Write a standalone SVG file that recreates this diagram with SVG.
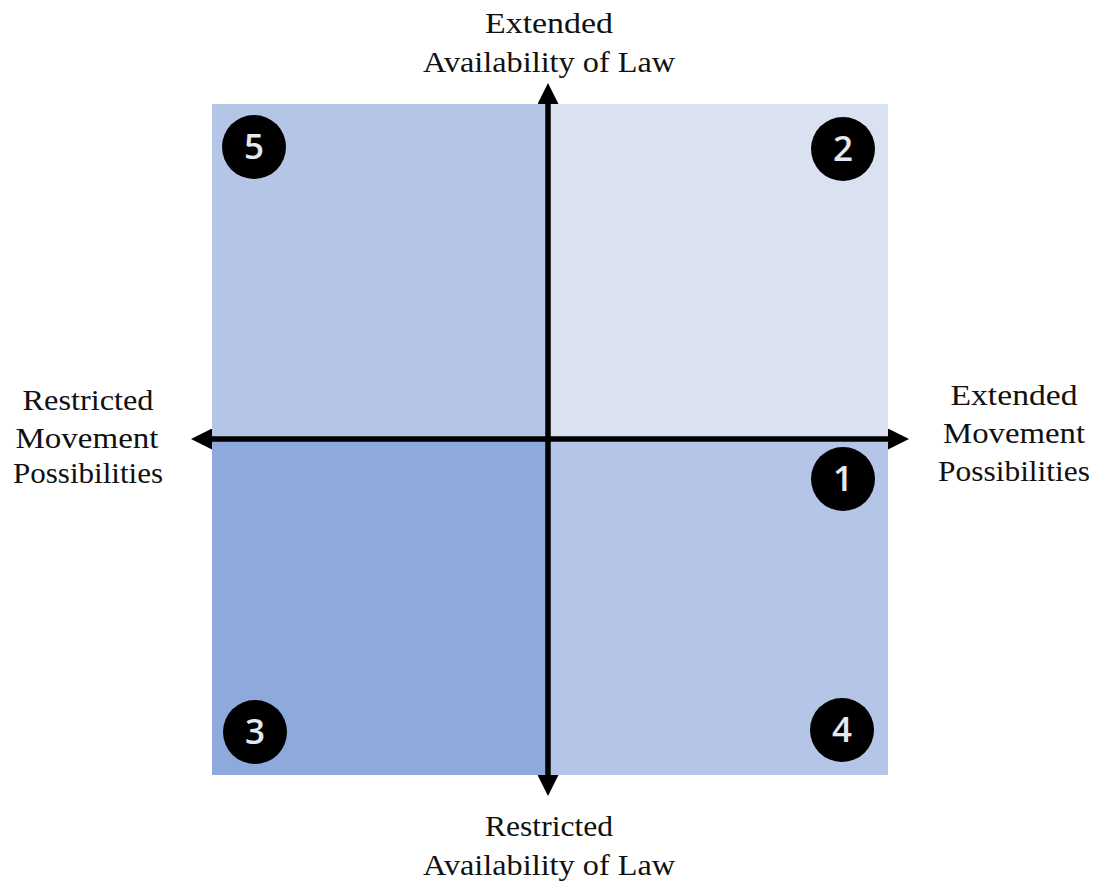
<svg xmlns="http://www.w3.org/2000/svg" width="1100" height="881" viewBox="0 0 1100 881">
<style>
.lbl{font-family:"Liberation Serif","Times New Roman",serif;font-size:29px;fill:#111;text-anchor:middle}
.num{font-family:"Open Sans","Noto Sans",sans-serif;font-size:35px;font-weight:600;fill:#e4e8f0;text-anchor:middle}
.badge{fill:#000}
.axis{stroke:#000;stroke-width:5;fill:none}
</style>
<defs>
<marker id="ah" viewBox="0 0 10 10" refX="0" refY="5" markerWidth="4.2" markerHeight="4.2" orient="auto" markerUnits="strokeWidth">
<path d="M0,0 L10,5 L0,10 z" fill="#000"/>
</marker>
</defs>
<rect width="1100" height="881" fill="#fff"/>
<g id="quadrants">
<rect id="q5" x="212" y="104" width="336" height="335" fill="#B4C5E6"/>
<rect id="q2" x="548" y="104" width="340" height="335" fill="#DAE2F1"/>
<rect id="q3" x="212" y="439" width="336" height="336" fill="#8EAADC"/>
<rect id="q4" x="548" y="439" width="340" height="336" fill="#B4C5E7"/>
</g>
<g id="connectors">
<line class="axis" x1="548" y1="775" x2="548" y2="104" marker-end="url(#ah)"/>
<line class="axis" x1="548" y1="104" x2="548" y2="775" marker-end="url(#ah)"/>
<line class="axis" x1="212" y1="439" x2="888" y2="439" marker-end="url(#ah)"/>
<line class="axis" x1="888" y1="439" x2="212" y2="439" marker-end="url(#ah)"/>
</g>
<g id="n5"><circle class="badge" cx="254" cy="147" r="32"/><text class="num" x="254" y="159">5</text></g>
<g id="n2"><circle class="badge" cx="843" cy="149" r="32"/><text class="num" x="843" y="161">2</text></g>
<g id="n1"><circle class="badge" cx="843" cy="479" r="32"/><text class="num" x="843" y="491">1</text></g>
<g id="n3"><circle class="badge" cx="255" cy="732" r="32"/><text class="num" x="255" y="744">3</text></g>
<g id="n4"><circle class="badge" cx="842" cy="730" r="32"/><text class="num" x="842" y="742">4</text></g>
<g id="label-top">
<text class="lbl" x="549" y="33" textLength="128" lengthAdjust="spacingAndGlyphs">Extended</text>
<text class="lbl" x="549" y="72" textLength="252" lengthAdjust="spacingAndGlyphs">Availability of Law</text>
</g>
<g id="label-left">
<text class="lbl" x="88" y="410" textLength="131" lengthAdjust="spacingAndGlyphs">Restricted</text>
<text class="lbl" x="87" y="448" textLength="143" lengthAdjust="spacingAndGlyphs">Movement</text>
<text class="lbl" x="88" y="483" textLength="150" lengthAdjust="spacingAndGlyphs">Possibilities</text>
</g>
<g id="label-right">
<text class="lbl" x="1014" y="405" textLength="127" lengthAdjust="spacingAndGlyphs">Extended</text>
<text class="lbl" x="1014" y="443" textLength="142" lengthAdjust="spacingAndGlyphs">Movement</text>
<text class="lbl" x="1014" y="481" textLength="152" lengthAdjust="spacingAndGlyphs">Possibilities</text>
</g>
<g id="label-bottom">
<text class="lbl" x="549" y="836" textLength="128" lengthAdjust="spacingAndGlyphs">Restricted</text>
<text class="lbl" x="549" y="875" textLength="252" lengthAdjust="spacingAndGlyphs">Availability of Law</text>
</g>
</svg>
